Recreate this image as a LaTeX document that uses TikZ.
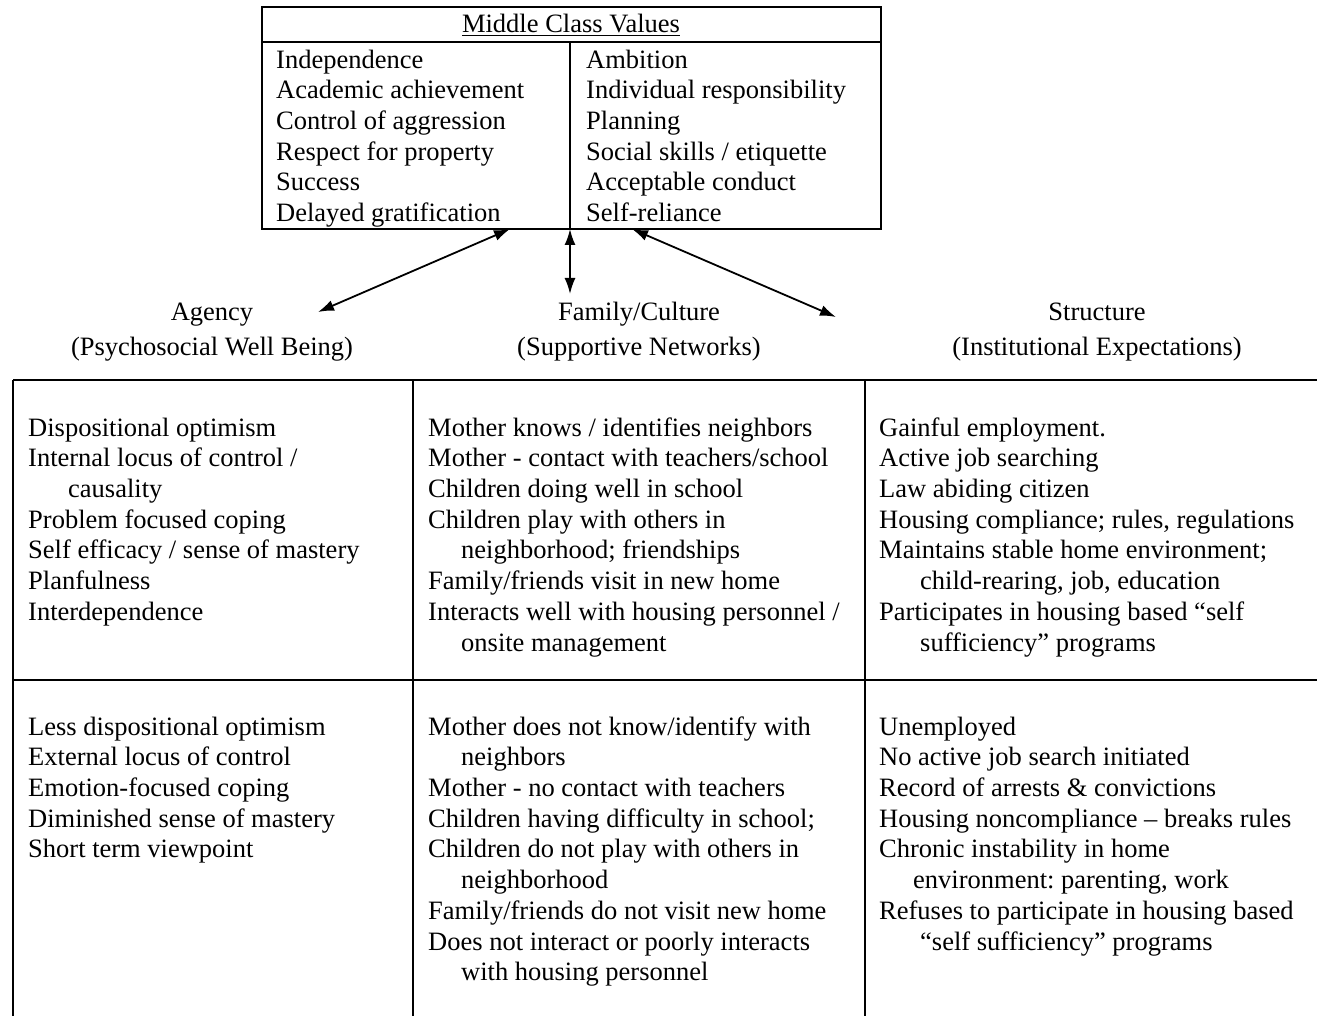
\documentclass[tikz,border=0pt]{standalone}
\usepackage{fontspec}
\setmainfont{Liberation Serif}
\frenchspacing
\usetikzlibrary{arrows.meta}
\begin{document}
\begin{tikzpicture}[x=1pt,y=-1pt,
  txt/.style={anchor=north west,inner sep=0pt,align=left,
    font=\fontsize{26.5}{30.7}\selectfont},
  head/.style={anchor=base,inner sep=0pt,align=center,
    font=\fontsize{26.5}{35}\selectfont},
  rule/.style={line width=2pt},
  link/.style={line width=1.8pt,{Latex[length=16pt,width=11pt]}-{Latex[length=16pt,width=11pt]}}]
\useasboundingbox (0,0) rectangle (1317,1016);

% values box
\draw[rule] (262,7) rectangle (881,229);
\draw[rule] (262,42) -- (881,42);
\draw[rule] (570,42) -- (570,229);
\node[head] (mcv) at (571,33) {\underline{Middle Class Values}};
\node[txt] (mcvL) at (276,68-21.5) {\strut Independence\\Academic achievement\\Control of aggression\\Respect for property\\Success\\Delayed gratification};
\node[txt] (mcvR) at (586,68-21.5) {\strut Ambition\\Individual responsibility\\Planning\\Social skills / etiquette\\Acceptable conduct\\Self-reliance};

% column headings (anchored on the baseline of the second line)
\node[head] (agency) at (212,355) {Agency\\(Psychosocial Well Being)};
\node[head] (family) at (639,355) {Family/Culture\\(Supportive Networks)};
\node[head] (structure) at (1097,355) {Structure\\(Institutional Expectations)};

% connectors
\coordinate (vA) at (510,229);
\coordinate (vM) at (570,229);
\coordinate (vS) at (632,229);
\coordinate (eA) at (318,312);
\coordinate (eM) at (570,294);
\coordinate (eS) at (836,317);
\draw[link] (vA) -- (eA);
\draw[link] (vM) -- (eM);
\draw[link] (vS) -- (eS);

% grid
\draw[rule] (13,380) -- (1317,380);
\draw[rule] (13,680) -- (1317,680);
\draw[rule] (13,380) -- (13,1016);
\draw[rule] (413,380) -- (413,1016);
\draw[rule] (865,380) -- (865,1016);

% upper row
\node[txt] (a1) at (28,436-21.5) {\strut Dispositional optimism\\Internal locus of control /\\\hspace*{40pt}causality\\Problem focused coping\\Self efficacy / sense of mastery\\Planfulness\\Interdependence};
\node[txt] (f1) at (428,436-21.5) {\strut Mother knows / identifies neighbors\\Mother - contact with teachers/school\\Children doing well in school\\Children play with others in\\\hspace*{33pt}neighborhood; friendships\\Family/friends visit in new home\\Interacts well with housing personnel /\\\hspace*{33pt}onsite management};
\node[txt] (s1) at (879,436-21.5) {\strut Gainful employment.\\Active job searching\\Law abiding citizen\\Housing compliance; rules, regulations\\Maintains stable home environment;\\\hspace*{41pt}child-rearing, job, education\\Participates in housing based “self\\\hspace*{41pt}sufficiency” programs};

% lower row
\node[txt] (a2) at (28,735-21.5) {\strut Less dispositional optimism\\External locus of control\\Emotion-focused coping\\Diminished sense of mastery\\Short term viewpoint};
\node[txt] (f2) at (428,735-21.5) {\strut Mother does not know/identify with\\\hspace*{33pt}neighbors\\Mother - no contact with teachers\\Children having difficulty in school;\\Children do not play with others in\\\hspace*{33pt}neighborhood\\Family/friends do not visit new home\\Does not interact or poorly interacts\\\hspace*{33pt}with housing personnel};
\node[txt] (s2) at (879,735-21.5) {\strut Unemployed\\No active job search initiated\\Record of arrests \& convictions\\Housing noncompliance – breaks rules\\Chronic instability in home\\\hspace*{34pt}environment: parenting, work\\Refuses to participate in housing based\\\hspace*{41pt}“self sufficiency” programs};
\end{tikzpicture}
\end{document}
